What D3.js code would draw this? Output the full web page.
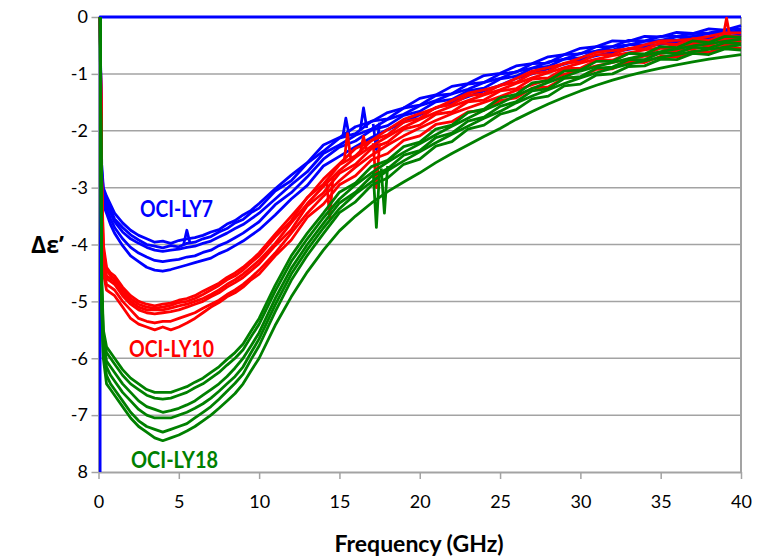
<!DOCTYPE html>
<html>
<head>
<meta charset="utf-8">
<script src="https://cdn.jsdelivr.net/npm/d3@7"></script>
<style>
  body { margin: 0; background: #fff; }
  svg { display: block; }
  text { font-family: Lato, "Open Sans", sans-serif; }
</style>
</head>
<body>
<svg id="chart" width="769" height="560"></svg>
<script>
// Frequency grid (GHz)
const freqGHz = [0.1, 0.2, 0.3, 0.5, 0.75, 1, 1.5, 2, 2.5, 3, 3.5, 4, 4.5, 5, 5.5, 6, 6.5, 7, 7.5, 8, 8.5, 9, 9.5, 10,
  11, 12, 13, 14, 15, 16, 17, 18, 19, 20, 21, 22, 23, 24, 25, 26, 27, 28, 29, 30, 31, 32, 33, 34, 35, 36, 37, 38, 39, 40];

// OCI-LY7 (blue)
const ly7Curves = [
  [0, -2.6, -3.0, -3.15, -3.3, -3.45, -3.62, -3.75, -3.84, -3.9, -3.96, -3.94, -3.98, -3.93, -3.9, -3.88, -3.84, -3.78, -3.74, -3.64, -3.58, -3.48, -3.4, -3.28,
   -3.02, -2.78, -2.56, -2.25, -2.12, -1.93, -1.84, -1.68, -1.6, -1.43, -1.37, -1.22, -1.17, -1.03, -0.99, -0.86, -0.82, -0.7, -0.66, -0.55, -0.52, -0.42, -0.43, -0.34, -0.35, -0.27, -0.29, -0.21, -0.23, -0.15],
  [0, -2.7, -3.05, -3.2, -3.38, -3.55, -3.7, -3.83, -3.92, -4.0, -4.03, -4.06, -4.02, -4.04, -3.98, -3.96, -3.9, -3.86, -3.78, -3.72, -3.62, -3.56, -3.44, -3.36,
   -3.06, -2.88, -2.57, -2.36, -2.13, -2.05, -1.83, -1.79, -1.6, -1.55, -1.38, -1.35, -1.18, -1.15, -1.0, -0.97, -0.82, -0.81, -0.66, -0.65, -0.52, -0.52, -0.41, -0.42, -0.34, -0.34, -0.29, -0.28, -0.23, -0.21],
  [0, -2.8, -3.1, -3.3, -3.45, -3.6, -3.78, -3.9, -3.98, -4.05, -4.1, -4.12, -4.1, -4.08, -4.05, -4.03, -3.98, -3.94, -3.87, -3.8, -3.72, -3.65, -3.55, -3.45,
   -3.2, -2.95, -2.72, -2.4, -2.25, -2.08, -1.97, -1.8, -1.71, -1.56, -1.47, -1.35, -1.27, -1.15, -1.08, -0.96, -0.9, -0.79, -0.74, -0.64, -0.6, -0.52, -0.49, -0.43, -0.41, -0.35, -0.34, -0.29, -0.28, -0.24],
  [0, -2.9, -3.2, -3.38, -3.55, -3.7, -3.9, -4.05, -4.15, -4.22, -4.28, -4.3, -4.28, -4.26, -4.22, -4.2, -4.14, -4.1, -4.02, -3.96, -3.88, -3.8, -3.7, -3.6,
   -3.3, -3.09, -2.81, -2.5, -2.29, -2.18, -1.99, -1.91, -1.73, -1.66, -1.49, -1.45, -1.3, -1.25, -1.09, -1.04, -0.9, -0.87, -0.74, -0.72, -0.6, -0.58, -0.49, -0.49, -0.41, -0.41, -0.34, -0.35, -0.28, -0.29],
  [0, -3.0, -3.3, -3.45, -3.65, -3.8, -4.02, -4.2, -4.3, -4.4, -4.45, -4.47, -4.44, -4.4, -4.36, -4.32, -4.28, -4.24, -4.16, -4.1, -4.02, -3.94, -3.84, -3.74,
   -3.48, -3.2, -2.96, -2.62, -2.45, -2.28, -2.12, -1.98, -1.85, -1.72, -1.6, -1.5, -1.4, -1.3, -1.2, -1.08, -1.0, -0.91, -0.83, -0.75, -0.68, -0.62, -0.57, -0.52, -0.48, -0.44, -0.41, -0.38, -0.35, -0.32]
];

// OCI-LY10 (red)
const ly10Curves = [
  [0, -2.8, -4.0, -4.4, -4.5, -4.55, -4.75, -4.9, -5.0, -5.05, -5.08, -5.05, -5.03, -4.98, -4.95, -4.9, -4.82, -4.75, -4.68, -4.58, -4.5, -4.4, -4.28, -4.15,
   -3.82, -3.5, -3.18, -2.85, -2.58, -2.31, -2.17, -1.98, -1.8, -1.7, -1.6, -1.47, -1.34, -1.28, -1.21, -1.08, -0.95, -0.89, -0.82, -0.72, -0.62, -0.59, -0.56, -0.49, -0.42, -0.41, -0.39, -0.34, -0.28, -0.28],
  [0, -2.9, -4.1, -4.45, -4.55, -4.6, -4.8, -4.95, -5.05, -5.1, -5.12, -5.1, -5.07, -5.02, -5.0, -4.95, -4.88, -4.8, -4.72, -4.62, -4.55, -4.45, -4.32, -4.2,
   -3.87, -3.58, -3.17, -2.94, -2.6, -2.44, -2.17, -2.07, -1.85, -1.78, -1.59, -1.54, -1.38, -1.35, -1.2, -1.15, -0.99, -0.96, -0.81, -0.79, -0.66, -0.66, -0.55, -0.56, -0.46, -0.48, -0.38, -0.41, -0.32, -0.35],
  [0, -3.0, -4.2, -4.55, -4.6, -4.65, -4.85, -5.0, -5.1, -5.15, -5.15, -5.15, -5.12, -5.08, -5.05, -5.0, -4.95, -4.88, -4.8, -4.7, -4.62, -4.52, -4.4, -4.28,
   -3.98, -3.62, -3.28, -2.98, -2.7, -2.47, -2.27, -2.1, -1.94, -1.8, -1.68, -1.57, -1.47, -1.37, -1.28, -1.17, -1.07, -0.98, -0.89, -0.81, -0.74, -0.68, -0.63, -0.58, -0.54, -0.5, -0.46, -0.42, -0.39, -0.36],
  [0, -3.1, -4.3, -4.6, -4.65, -4.7, -4.9, -5.05, -5.15, -5.2, -5.22, -5.2, -5.18, -5.15, -5.1, -5.05, -5.0, -4.92, -4.85, -4.75, -4.67, -4.58, -4.46, -4.34,
   -4.02, -3.74, -3.32, -3.09, -2.75, -2.59, -2.31, -2.2, -1.97, -1.9, -1.71, -1.67, -1.49, -1.46, -1.3, -1.26, -1.09, -1.07, -0.91, -0.9, -0.76, -0.76, -0.64, -0.66, -0.55, -0.57, -0.47, -0.5, -0.4, -0.43],
  [0, -3.2, -4.4, -4.7, -4.75, -4.8, -5.0, -5.15, -5.3, -5.35, -5.38, -5.35, -5.35, -5.3, -5.25, -5.2, -5.12, -5.05, -4.98, -4.88, -4.8, -4.7, -4.58, -4.45,
   -4.15, -3.8, -3.45, -3.15, -2.88, -2.64, -2.43, -2.25, -2.09, -1.95, -1.82, -1.7, -1.6, -1.5, -1.4, -1.29, -1.19, -1.1, -1.01, -0.93, -0.86, -0.8, -0.74, -0.69, -0.64, -0.6, -0.56, -0.52, -0.49, -0.46],
  [0, -3.3, -4.5, -4.8, -4.85, -4.9, -5.1, -5.3, -5.4, -5.45, -5.5, -5.45, -5.5, -5.45, -5.38, -5.3, -5.2, -5.1, -5.02, -4.92, -4.85, -4.75, -4.62, -4.52,
   -4.2, -3.92, -3.52, -3.29, -2.95, -2.79, -2.51, -2.4, -2.17, -2.09, -1.89, -1.84, -1.67, -1.64, -1.47, -1.42, -1.25, -1.23, -1.07, -1.06, -0.92, -0.91, -0.79, -0.8, -0.69, -0.7, -0.6, -0.62, -0.52, -0.55]
];

// OCI-LY18 (green)
const ly18Curves = [
  [0, -4.6, -5.5, -5.8, -5.9, -6.0, -6.2, -6.35, -6.45, -6.55, -6.6, -6.6, -6.6, -6.55, -6.5, -6.42, -6.35, -6.25, -6.15, -6.02, -5.9, -5.75, -5.52, -5.3,
   -4.72, -4.2, -3.8, -3.45, -3.08, -2.92, -2.63, -2.52, -2.28, -2.2, -1.97, -1.9, -1.68, -1.62, -1.42, -1.36, -1.16, -1.12, -0.95, -0.93, -0.78, -0.78, -0.64, -0.65, -0.52, -0.54, -0.42, -0.45, -0.34, -0.36],
  [0, -4.7, -5.6, -5.9, -6.0, -6.1, -6.3, -6.45, -6.55, -6.65, -6.7, -6.72, -6.7, -6.65, -6.6, -6.52, -6.45, -6.35, -6.25, -6.12, -6.0, -5.85, -5.62, -5.4,
   -4.82, -4.3, -3.9, -3.53, -3.2, -2.95, -2.74, -2.55, -2.38, -2.23, -2.07, -1.92, -1.78, -1.64, -1.52, -1.38, -1.26, -1.15, -1.05, -0.95, -0.87, -0.8, -0.73, -0.67, -0.61, -0.56, -0.51, -0.47, -0.43, -0.39],
  [0, -4.8, -5.7, -6.05, -6.15, -6.25, -6.45, -6.6, -6.75, -6.85, -6.9, -6.95, -6.92, -6.88, -6.82, -6.75, -6.65, -6.55, -6.45, -6.32, -6.17, -6.0, -5.78, -5.55,
   -4.95, -4.42, -4.0, -3.63, -3.27, -3.08, -2.8, -2.67, -2.43, -2.35, -2.12, -2.04, -1.83, -1.76, -1.57, -1.49, -1.3, -1.26, -1.08, -1.05, -0.9, -0.88, -0.75, -0.75, -0.63, -0.64, -0.53, -0.55, -0.45, -0.47],
  [0, -4.9, -5.8, -6.15, -6.3, -6.4, -6.6, -6.75, -6.9, -7.0, -7.05, -7.05, -7.05, -7.0, -6.95, -6.88, -6.8, -6.7, -6.58, -6.45, -6.32, -6.15, -5.9, -5.66,
   -5.06, -4.52, -4.09, -3.71, -3.37, -3.11, -2.9, -2.7, -2.53, -2.37, -2.21, -2.06, -1.92, -1.78, -1.66, -1.51, -1.39, -1.28, -1.17, -1.07, -0.98, -0.9, -0.83, -0.77, -0.71, -0.66, -0.61, -0.57, -0.53, -0.49],
  [0, -5.0, -5.9, -6.3, -6.45, -6.55, -6.75, -6.95, -7.1, -7.2, -7.25, -7.3, -7.25, -7.2, -7.15, -7.05, -6.95, -6.85, -6.72, -6.58, -6.44, -6.28, -6.02, -5.78,
   -5.18, -4.63, -4.19, -3.81, -3.44, -3.25, -2.96, -2.83, -2.59, -2.5, -2.27, -2.19, -1.97, -1.9, -1.71, -1.63, -1.44, -1.39, -1.21, -1.18, -1.02, -1.0, -0.87, -0.86, -0.74, -0.75, -0.64, -0.66, -0.56, -0.58],
  [0, -5.1, -6.0, -6.45, -6.55, -6.65, -6.85, -7.05, -7.2, -7.3, -7.4, -7.45, -7.4, -7.35, -7.28, -7.2, -7.1, -7.0, -6.88, -6.75, -6.62, -6.45, -6.22, -6.0,
   -5.42, -4.92, -4.48, -4.1, -3.76, -3.5, -3.27, -3.07, -2.9, -2.74, -2.56, -2.4, -2.25, -2.1, -1.96, -1.8, -1.66, -1.53, -1.41, -1.3, -1.2, -1.11, -1.03, -0.96, -0.9, -0.84, -0.79, -0.74, -0.7, -0.66]
];

// narrow spikes seen in the traces: [freq, value] triples
const ly7Spikes = [
  [[5.3, -4.0], [5.5, -3.75], [5.7, -3.98]],
  [[15.2, -2.12], [15.4, -1.78], [15.6, -2.08]],
  [[16.3, -1.98], [16.5, -1.6], [16.7, -1.95]],
  [[17.1, -1.88], [17.3, -2.33], [17.5, -1.86]]
];
const ly10Spikes = [
  [[14.2, -2.86], [14.4, -3.55], [14.6, -2.8]],
  [[15.3, -2.52], [15.5, -2.05], [15.7, -2.48]],
  [[16.3, -2.38], [16.5, -2.1], [16.7, -2.35]],
  [[17.1, -2.22], [17.3, -3.0], [17.5, -2.22]],
  [[38.9, -0.33], [39.1, -0.02], [39.3, -0.33]]
];
const ly18Spikes = [
  [[17.1, -2.72], [17.3, -3.7], [17.5, -2.7]],
  [[17.6, -2.66], [17.8, -3.45], [18.0, -2.62]]
];
// blue trace along the plot's left edge and top
const blueEdge = [[0.1, -8.2], [0.1, 0], [40, 0]];

const xTicks = [0, 5, 10, 15, 20, 25, 30, 35, 40];
const yTicks = [0, -1, -2, -3, -4, -5, -6, -7, -8];
const yTickLabels = ["0", "-1", "-2", "-3", "-4", "-5", "-6", "-7", "8"];

const svg = d3.select("#chart");
const x = d3.scaleLinear().domain([0, 40]).range([98.5, 741]);
const y = d3.scaleLinear().domain([-8, 0]).range([472, 17]);
const grey = "#a3a3a3";

// gridlines
svg.append("g").selectAll("line")
  .data(yTicks.slice(0, -1))
  .enter().append("line")
    .attr("x1", x(0)).attr("x2", x(40))
    .attr("y1", d => y(d)).attr("y2", d => y(d))
    .attr("stroke", grey).attr("stroke-width", 1.5);

// right border
svg.append("line")
  .attr("x1", x(40)).attr("x2", x(40))
  .attr("y1", y(0)).attr("y2", y(-8))
  .attr("stroke", grey).attr("stroke-width", 2);

// axes
const yAxis = svg.append("g")
  .attr("transform", `translate(${x(0)},0)`)
  .call(d3.axisLeft(y).tickValues(yTicks).tickFormat((d, i) => yTickLabels[i])
    .tickSize(7).tickSizeOuter(0).tickPadding(3.5));
const xAxis = svg.append("g")
  .attr("transform", `translate(0,${y(-8)})`)
  .call(d3.axisBottom(x).tickValues(xTicks).tickSize(7).tickSizeOuter(0).tickPadding(16));

[yAxis, xAxis].forEach(g => {
  g.select(".domain").attr("stroke", grey).attr("stroke-width", 2);
  g.selectAll(".tick line").attr("stroke", grey).attr("stroke-width", 1.5);
  g.selectAll(".tick text").attr("fill", "#000")
    .style("font-family", "Lato, 'Open Sans', sans-serif").style("font-size", "18px");
});

// data traces
svg.append("clipPath").attr("id", "plotClip")
  .append("rect").attr("x", x(0)).attr("y", y(0) - 3)
  .attr("width", x(40) - x(0) + 2).attr("height", y(-8) - y(0) + 3);

const plot = svg.append("g").attr("clip-path", "url(#plotClip)");

const curveLine = d3.line()
  .defined((d, i) => i < freqGHz.length)
  .x((d, i) => x(freqGHz[i]))
  .y(d => y(d));
const pairLine = d3.line().x(d => x(d[0])).y(d => y(d[1]));

function drawGroup(curves, spikes, color) {
  const g = plot.append("g")
    .attr("fill", "none").attr("stroke", color)
    .attr("stroke-width", 2.8).attr("stroke-linejoin", "round");
  g.selectAll("path.curve").data(curves).enter()
    .append("path").attr("class", "curve").attr("d", curveLine);
  g.selectAll("path.spike").data(spikes).enter()
    .append("path").attr("class", "spike").attr("d", pairLine);
  return g;
}

const blueG = drawGroup(ly7Curves, ly7Spikes, "#0000ff");
blueG.append("path").attr("d", pairLine(blueEdge));
drawGroup(ly10Curves, ly10Spikes, "#ff0000");
drawGroup(ly18Curves, ly18Spikes, "#008000");

// group labels
const labels = [
  { text: "OCI-LY7", x: 140, y: 217, w: 73, color: "#0000ff" },
  { text: "OCI-LY10", x: 129, y: 357, w: 85, color: "#ff0000" },
  { text: "OCI-LY18", x: 131, y: 468, w: 87, color: "#008000" }
];
svg.selectAll("text.grp").data(labels).enter()
  .append("text").attr("class", "grp")
    .attr("x", d => d.x).attr("y", d => d.y)
    .attr("fill", d => d.color)
    .attr("textLength", d => d.w).attr("lengthAdjust", "spacingAndGlyphs")
    .style("font-size", "22px").style("font-weight", "bold")
    .text(d => d.text);

// axis titles
svg.append("text")
  .attr("x", 64).attr("y", 253).attr("text-anchor", "end")
  .style("font-family", "'Open Sans', sans-serif")
  .style("font-size", "23px").style("font-weight", "bold")
  .text("Δε’");

svg.append("text")
  .attr("x", 419).attr("y", 552).attr("text-anchor", "middle")
  .style("font-size", "23px").style("font-weight", "bold")
  .text("Frequency (GHz)");
</script>
</body>
</html>
